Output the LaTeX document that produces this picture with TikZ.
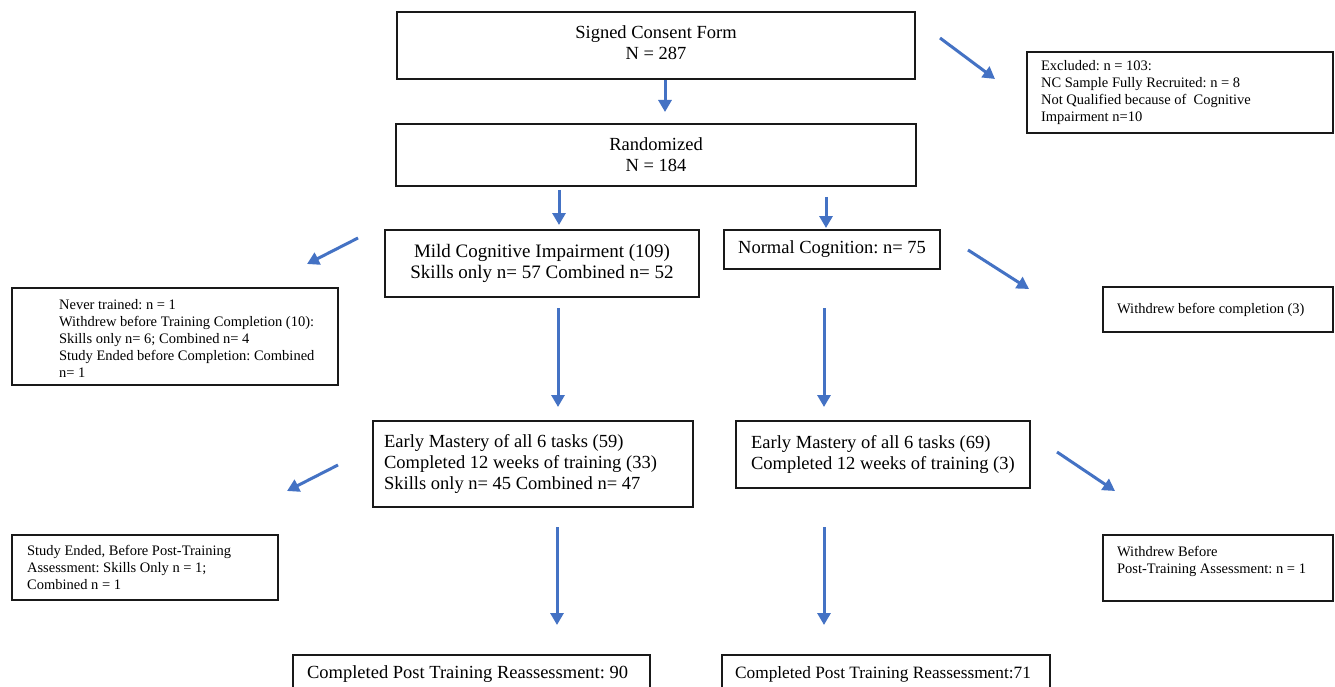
\documentclass[tikz,border=0pt]{standalone}
\usepackage{fontspec}
\setmainfont{Liberation Serif}
\usetikzlibrary{arrows.meta}
\definecolor{arrblue}{RGB}{68,114,196}
\tikzset{
  box/.style={draw=black!90, line width=2.2pt, rectangle, inner sep=0pt},
  bigtxt/.style={font=\fontsize{18.5}{21}\selectfont},
  smalltxt/.style={font=\fontsize{14.5}{17}\selectfont},
  ltext/.style={align=flush left, inner sep=0pt, anchor=west},
  arr/.style={draw=arrblue, line width=3pt, -{Triangle[length=12pt,width=13pt]}}
}
\begin{document}
\frenchspacing
\begin{tikzpicture}[x=1pt,y=-1pt]
\clip (0,0) rectangle (1335,687);
\fill[white] (0,0) rectangle (1335,687);

% main boxes with centred text
\node[box,minimum width=518pt,minimum height=67pt] (consent) at (656,45.5) {};
\node[bigtxt,align=center,inner sep=0pt] (consentt) at ([yshift=3pt]consent.center) {Signed Consent Form\\N = 287};
\node[box,bigtxt,align=center,minimum width=520pt,minimum height=62pt] (rand) at (656,155) {Randomized\\N = 184};
\node[box,font=\fontsize{19}{21}\selectfont,align=center,minimum width=314pt,minimum height=67pt] (mci) at (542,263.5) {Mild Cognitive Impairment (109)\\Skills only n= 57 Combined n= 52};
\node[box,bigtxt,align=center,minimum width=216pt,minimum height=39pt] (nc) at (832,249.5) {Normal Cognition: n= 75};

% boxes with left-aligned text (frame + text)
\node[box,minimum width=320pt,minimum height=86pt] (em1) at (533,464) {};
\node[ltext,bigtxt] (em1t) at ([xshift=12pt]em1.west) {Early Mastery of all 6 tasks (59)\\Completed 12 weeks of training (33)\\Skills only n= 45 Combined n= 47};

\node[box,minimum width=294pt,minimum height=67pt] (em2) at (883,454.5) {};
\node[ltext,bigtxt] (em2t) at ([xshift=16pt]em2.west) {Early Mastery of all 6 tasks (69)\\Completed 12 weeks of training (3)};

\node[box,minimum width=357pt,minimum height=50pt] (b1) at (471.5,680) {};
\node[ltext,bigtxt] (b1t) at ([xshift=15pt,yshift=-20pt]b1.north west) {Completed Post Training Reassessment: 90};

\node[box,minimum width=328pt,minimum height=50pt] (b2) at (886,680) {};
\node[ltext,font=\fontsize{17.3}{21}\selectfont] (b2t) at ([xshift=14pt,yshift=-20pt]b2.north west) {Completed Post Training Reassessment:71};

\node[box,minimum width=306pt,minimum height=81pt] (excl) at (1180,92.5) {};
\node[ltext,smalltxt] (exclt) at ([xshift=15pt]excl.west) {Excluded: n = 103:\\NC Sample Fully Recruited: n = 8\\Not Qualified because of~ Cognitive\\Impairment n=10};

\node[box,minimum width=326pt,minimum height=97pt] (never) at (175,336.5) {};
\node[ltext,smalltxt] (nevert) at ([xshift=48pt,yshift=-2pt]never.west) {Never trained: n = 1\\Withdrew before Training Completion (10):\\Skills only n= 6; Combined n= 4\\Study Ended before Completion: Combined\\n= 1};

\node[box,minimum width=230pt,minimum height=45pt] (wd3) at (1218,309.5) {};
\node[ltext,smalltxt] (wd3t) at ([xshift=15pt]wd3.west) {Withdrew before completion (3)};

\node[box,minimum width=266pt,minimum height=65pt] (se) at (145,567.5) {};
\node[ltext,smalltxt] (set) at ([xshift=16pt]se.west) {Study Ended, Before Post-Training\\Assessment: Skills Only n = 1;\\Combined n = 1};

\node[box,minimum width=230pt,minimum height=66pt] (wdb) at (1218,568) {};
\node[ltext,smalltxt] (wdbt) at ([xshift=15pt]wdb.west) {Withdrew Before\\Post-Training Assessment: n = 1\\\mbox{}};

% arrow end points
\coordinate (c1s) at (665,80);   \coordinate (c1e) at (665,112);
\coordinate (c2s) at (940,38);   \coordinate (c2e) at (995,79);
\coordinate (c3s) at (559,190);  \coordinate (c3e) at (559,225);
\coordinate (c4s) at (826,197);  \coordinate (c4e) at (826,228);
\coordinate (c5s) at (358,238);  \coordinate (c5e) at (307,264);
\coordinate (c6s) at (968,250);  \coordinate (c6e) at (1029,289);
\coordinate (c7s) at (558,308);  \coordinate (c7e) at (558,407);
\coordinate (c8s) at (824,308);  \coordinate (c8e) at (824,407);
\coordinate (c9s) at (338,465);  \coordinate (c9e) at (287,491);
\coordinate (c10s) at (1057,452); \coordinate (c10e) at (1115,491);
\coordinate (c11s) at (557,527); \coordinate (c11e) at (557,625);
\coordinate (c12s) at (824,527); \coordinate (c12e) at (824,625);

\draw[arr] (c1s) -- (c1e);
\draw[arr] (c2s) -- (c2e);
\draw[arr] (c3s) -- (c3e);
\draw[arr] (c4s) -- (c4e);
\draw[arr] (c5s) -- (c5e);
\draw[arr] (c6s) -- (c6e);
\draw[arr] (c7s) -- (c7e);
\draw[arr] (c8s) -- (c8e);
\draw[arr] (c9s) -- (c9e);
\draw[arr] (c10s) -- (c10e);
\draw[arr] (c11s) -- (c11e);
\draw[arr] (c12s) -- (c12e);
\end{tikzpicture}
\end{document}
